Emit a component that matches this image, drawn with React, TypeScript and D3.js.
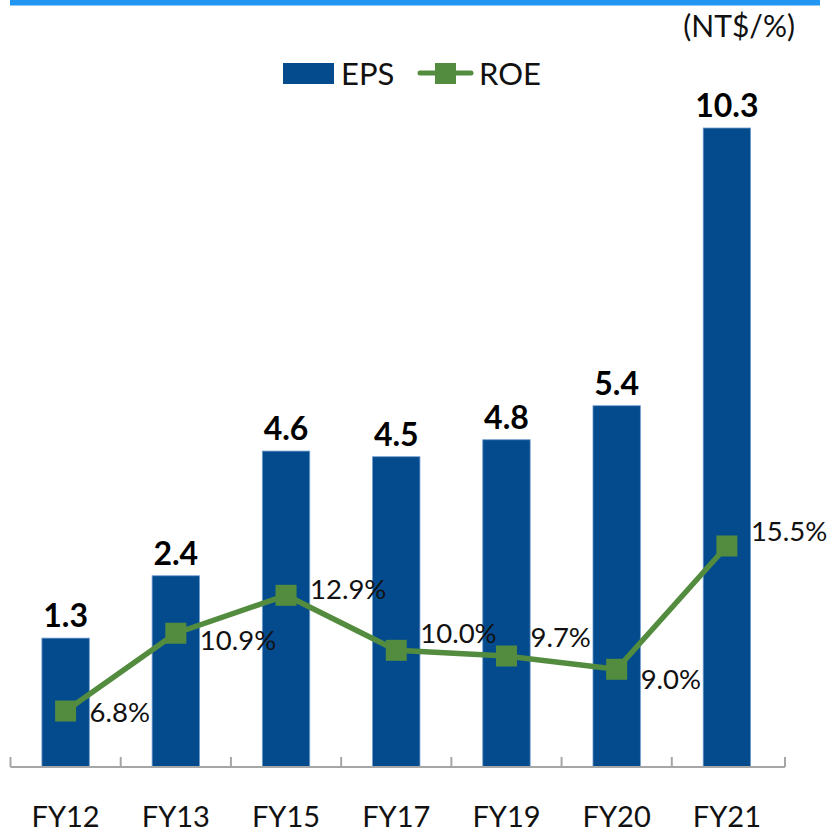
import React, { useEffect, useRef } from 'react';
import * as d3 from 'd3';

const categories = ['FY12', 'FY13', 'FY15', 'FY17', 'FY19', 'FY20', 'FY21'];
const eps = [1.3, 2.4, 4.6, 4.5, 4.8, 5.4, 10.3];
const roe = [6.8, 10.9, 12.9, 10.0, 9.7, 9.0, 15.5];
// vertical nudges for the ROE labels, as placed in the source
const roeLabelDy = [0, 6, -7, -18, -20, 9, -15];

const W = 830, H = 832;
const FONT = 'Lato, "Open Sans", sans-serif';
const BLUE = '#034b8c';
const GREEN = '#548c3f';

export default function App() {
  const ref = useRef<SVGSVGElement>(null);

  useEffect(() => {
    const svg = d3.select(ref.current);
    svg.selectAll('*').remove();

    const baseY = 767;
    const axisL = 10.5, axisR = 785;
    const x = d3.scaleBand<string>()
      .domain(categories)
      .range([axisL, axisR - 3])
      .paddingInner(0.57)
      .paddingOuter(0.285);
    const yBar = d3.scaleLinear().domain([-0.974, 10.3]).range([baseY, 128]);
    const yRoe = d3.scaleLinear().domain([0, 16]).range([840, 536.5]);
    const cx = (c: string) => (x(c) as number) + x.bandwidth() / 2;

    // top rule
    svg.append('rect')
      .attr('x', 10).attr('y', 0).attr('width', 810).attr('height', 5.5)
      .attr('fill', '#2196f3');

    // unit
    svg.append('text')
      .attr('x', 795).attr('y', 37)
      .attr('text-anchor', 'end')
      .style('font-family', FONT).style('font-size', '30px')
      .attr('fill', '#111')
      .text('(NT$/%)');

    // legend
    const lg = svg.append('g');
    lg.append('rect').attr('x', 283).attr('y', 63).attr('width', 51).attr('height', 21).attr('fill', BLUE);
    lg.append('text').attr('x', 341).attr('y', 85)
      .style('font-family', FONT).style('font-size', '31px').attr('fill', '#111').text('EPS');
    lg.append('line').attr('x1', 420).attr('x2', 471).attr('y1', 73).attr('y2', 73)
      .attr('stroke', GREEN).attr('stroke-width', 5).attr('stroke-linecap', 'round');
    lg.append('rect').attr('x', 435).attr('y', 63).attr('width', 21).attr('height', 21).attr('fill', GREEN);
    lg.append('text').attr('x', 479).attr('y', 85)
      .style('font-family', FONT).style('font-size', '31px').attr('fill', '#111').text('ROE');

    // bars
    svg.append('g').selectAll('rect')
      .data(eps)
      .join('rect')
      .attr('x', (_, i) => x(categories[i]) as number)
      .attr('y', d => yBar(d))
      .attr('width', x.bandwidth())
      .attr('height', d => baseY - yBar(d))
      .attr('fill', BLUE)
      .attr('stroke', '#6f9bcf')
      .attr('stroke-width', 0.8);

    svg.append('g').selectAll('text')
      .data(eps)
      .join('text')
      .attr('x', (_, i) => cx(categories[i]))
      .attr('y', d => yBar(d) - 11)
      .attr('text-anchor', 'middle')
      .style('font-family', FONT).style('font-size', '32px').style('font-weight', 'bold')
      .attr('fill', '#000')
      .text(d => d.toFixed(1));

    // axis
    const ax = svg.append('g').attr('stroke', '#a6a6a6').attr('stroke-width', 2);
    ax.append('line').attr('x1', axisL).attr('x2', axisR).attr('y1', baseY).attr('y2', baseY);
    const ticks = categories.map(c => x(c) as number - (x.step() - x.bandwidth()) / 2).concat([axisR]);
    ax.selectAll('line.tick').data(ticks).join('line')
      .attr('class', 'tick')
      .attr('x1', d => d).attr('x2', d => d)
      .attr('y1', baseY - 10).attr('y2', baseY);

    svg.append('g').selectAll('text')
      .data(categories)
      .join('text')
      .attr('x', d => cx(d))
      .attr('y', 827)
      .attr('text-anchor', 'middle')
      .style('font-family', FONT).style('font-size', '29px')
      .attr('fill', '#111')
      .text(d => d);

    // ROE line
    const line = d3.line<number>()
      .x((_, i) => cx(categories[i]))
      .y(d => yRoe(d));
    svg.append('path')
      .attr('d', line(roe))
      .attr('fill', 'none')
      .attr('stroke', GREEN)
      .attr('stroke-width', 5.5)
      .attr('stroke-linejoin', 'round');

    svg.append('g').selectAll('rect')
      .data(roe)
      .join('rect')
      .attr('x', (_, i) => cx(categories[i]) - 10.5)
      .attr('y', d => yRoe(d) - 10.5)
      .attr('width', 21).attr('height', 21)
      .attr('fill', GREEN);

    svg.append('g').selectAll('text')
      .data(roe)
      .join('text')
      .attr('x', (_, i) => cx(categories[i]) + 24)
      .attr('y', (d, i) => yRoe(d) + roeLabelDy[i] + 10.5)
      .style('font-family', FONT).style('font-size', '27.5px')
      .attr('fill', '#111')
      .text(d => d.toFixed(1) + '%');
  }, []);

  return (
    <svg ref={ref} width={W} height={H}
      style={{ position: 'absolute', left: 0, top: 0, background: '#fff' }} />
  );
}
